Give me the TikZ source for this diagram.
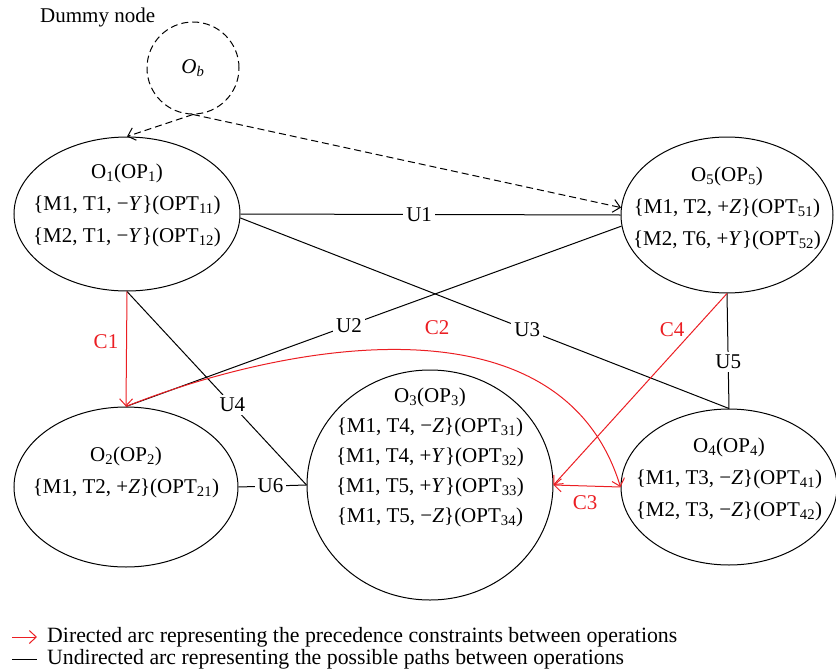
\documentclass[tikz,border=0pt]{standalone}
\usepackage{fontspec}
\setmainfont{Liberation Serif}
\usetikzlibrary{shapes.geometric,arrows.meta}
\definecolor{cred}{RGB}{235,30,35}
\tikzset{
  ell/.style={draw, ellipse, line width=1pt, inner sep=0pt},
  txt/.style={align=center, font=\fontsize{21}{32}\selectfont},
  txtc/.style={align=center, font=\fontsize{21}{30}\selectfont},
  ulink/.style={line width=1pt},
  clink/.style={draw=cred, line width=1pt, -{Straight Barb[length=7pt,width=13pt]}},
  dlink/.style={dash pattern=on 7pt off 4pt, line width=1pt, -{Straight Barb[length=7pt,width=13pt]}},
  lbl/.style={fill=white, inner sep=3pt, font=\fontsize{21}{25}\selectfont},
  clbl/.style={text=cred, inner sep=1pt, font=\fontsize{21}{25}\selectfont},
  plain/.style={inner sep=0pt, font=\fontsize{21}{25}\selectfont},
  legtxt/.style={inner sep=0pt, font=\fontsize{21.8}{25}\selectfont}
}
\begin{document}
\begin{tikzpicture}[x=1pt,y=-1pt]
\useasboundingbox (0,0) rectangle (836,672);

% dummy node
\node[plain, anchor=base west] (dummy) at (40,22) {Dummy node};
\node[draw, circle, minimum size=92pt, inner sep=0pt, dash pattern=on 7pt off 4pt, line width=1pt] (ob) at (193,68) {};
\node[plain] (obt) at (193,68) {\textit{O}\textsubscript{\textit{b}}};

% operation ellipses
\node[ell, minimum width=226pt, minimum height=154pt] (o1) at (127,214) {};
\node[ell, minimum width=212pt, minimum height=156pt] (o5) at (727,215) {};
\node[ell, minimum width=224pt, minimum height=160pt] (o2) at (126,487) {};
\node[ell, minimum width=246pt, minimum height=230pt] (o3) at (430,485) {};
\node[ell, minimum width=216pt, minimum height=156pt] (o4) at (729,487) {};

\node[txt] (o1t) at (127,205) {O\textsubscript{1}(OP\textsubscript{1})\\
\{M1, T1, −\textit{Y}\}(OPT\textsubscript{11})\\
\{M2, T1, −\textit{Y}\}(OPT\textsubscript{12})};
\node[txt] (o5t) at (727,208) {O\textsubscript{5}(OP\textsubscript{5})\\
\{M1, T2, +\textit{Z}\}(OPT\textsubscript{51})\\
\{M2, T6, +\textit{Y}\}(OPT\textsubscript{52})};
\node[txt] (o2t) at (126,472) {O\textsubscript{2}(OP\textsubscript{2})\\
\{M1, T2, +\textit{Z}\}(OPT\textsubscript{21})};
\node[txtc] (o3t) at (430,457) {O\textsubscript{3}(OP\textsubscript{3})\\
\{M1, T4, −\textit{Z}\}(OPT\textsubscript{31})\\
\{M1, T4, +\textit{Y}\}(OPT\textsubscript{32})\\
\{M1, T5, +\textit{Y}\}(OPT\textsubscript{33})\\
\{M1, T5, −\textit{Z}\}(OPT\textsubscript{34})};
\node[txt] (o4t) at (729,479) {O\textsubscript{4}(OP\textsubscript{4})\\
\{M1, T3, −\textit{Z}\}(OPT\textsubscript{41})\\
\{M2, T3, −\textit{Z}\}(OPT\textsubscript{42})};

% dashed arcs from dummy node
\draw[dlink] (ob.south) -- (o1.north);
\draw[dlink] (ob.south) -- (o5.176);

% undirected arcs
\draw[ulink] (o1.east) -- node[lbl, pos=0.47] (u1) {U1} (o5.west);
\draw[ulink] (o2.north) -- node[lbl, pos=0.45] (u2) {U2} (o5.186);
\draw[ulink] (o1.-2) -- node[lbl, pos=0.587] (u3) {U3} (o4.north);
\draw[ulink] (o1.south) -- node[lbl, pos=0.587] (u4) {U4} (o3.west);
\draw[ulink] (o5.south) -- node[lbl, pos=0.595] (u5) {U5} (o4.north);
\draw[ulink] (o2.east) -- node[lbl, pos=0.47] (u6) {U6} (o3.west);

% directed (precedence) arcs
\draw[clink] (o1.south) -- (o2.north);
\draw[clink] (o2.north) .. controls (280,345) and (560,290) .. (o4.west);
\draw[clink] (o4.west) -- (o3.east);
\draw[clink] (o5.south) -- (o3.east);
\node[clbl] (c1) at (106,342) {C1};
\node[clbl] (c2) at (437,328) {C2};
\node[clbl] (c3) at (585,503) {C3};
\node[clbl] (c4) at (672,330) {C4};

% legend
\coordinate (l1a) at (12,637);
\coordinate (l1b) at (37,637);
\coordinate (l2a) at (12,659);
\coordinate (l2b) at (37,659);
\draw[clink] (l1a) -- (l1b);
\draw[ulink] (l2a) -- (l2b);
\node[legtxt, anchor=west] (leg1) at (47,637) {Directed arc representing the precedence constraints between operations};
\node[legtxt, anchor=west] (leg2) at (47,659) {Undirected arc representing the possible paths between operations};
\end{tikzpicture}
\end{document}
